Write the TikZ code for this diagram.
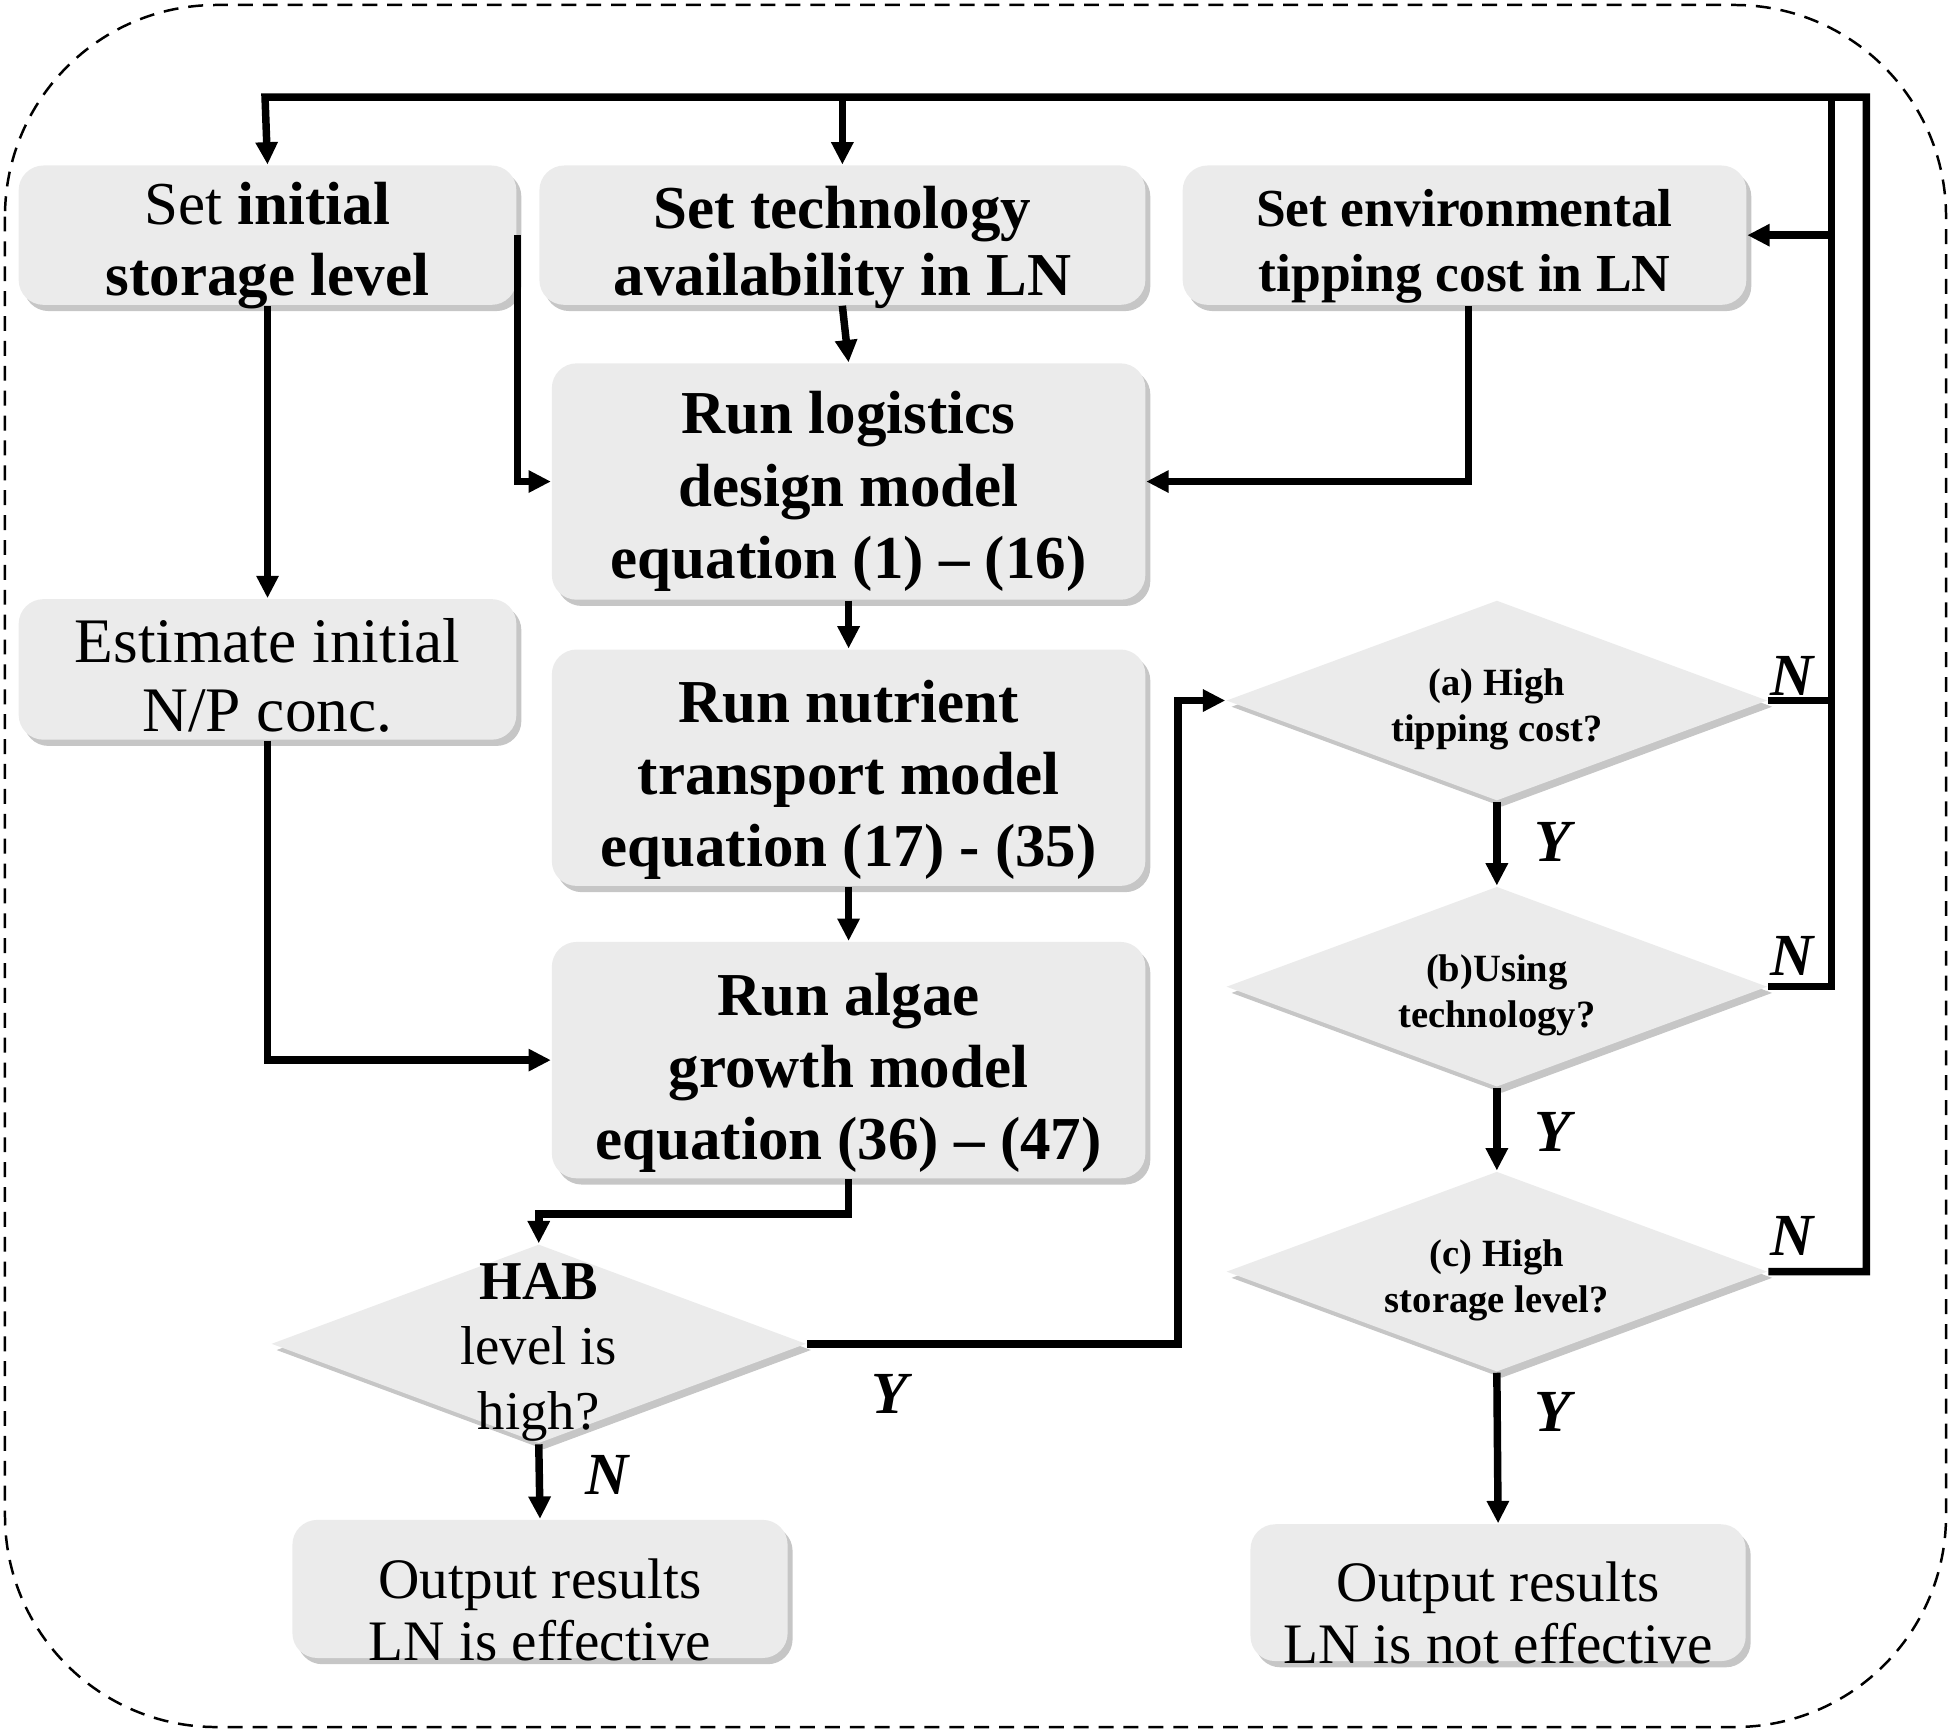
\documentclass[tikz,border=0pt]{standalone}
\usepackage{fontspec}
\setmainfont{Liberation Serif}
\usetikzlibrary{arrows.meta,shapes.geometric,shadows}

\definecolor{boxgray}{RGB}{235,235,235}
\tikzset{every picture/.style={line width=0.75pt}}
\tikzset{
	procbox/.style={rectangle, rounded corners=10pt, fill=boxgray, inner sep=0pt,
		drop shadow={shadow xshift=2pt, shadow yshift=-2.5pt, opacity=0.45}},
	decision/.style={diamond, fill=boxgray, inner sep=0pt,
		minimum width=217.5pt, minimum height=80.5pt,
		drop shadow={shadow xshift=2pt, shadow yshift=-2.5pt, opacity=0.45}},
	boxtext/.style={align=center, inner sep=0pt},
	asktext/.style={align=center, inner sep=0pt, yshift=-3.5pt, font=\fontsize{15.5}{18.5}\selectfont\bfseries},
	flow/.style={line width=3pt, -{Triangle[length=9pt,width=8.5pt]}},
	link/.style={line width=3pt},
	yn/.style={font=\fontsize{24}{24}\selectfont\bfseries\itshape},
}

\begin{document}
\begin{tikzpicture}[x=0.5pt,y=0.5pt,yscale=-1,xscale=1]
	\useasboundingbox (0,0) rectangle (1568,1392);

	%Shape: dashed frame
	\draw [line width=1pt, dash pattern=on 6pt off 4pt, rounded corners=85pt] (4,4) rectangle (1564,1388);

	% Process boxes
	\node [procbox, minimum width=200pt, minimum height=56pt,
		label={[boxtext, yshift=-4pt, font=\fontsize{24.5}{28.5}\selectfont]center:Set \textbf{initial}\\\textbf{storage level}}] (setstor) at (215,189) {};
	\node [procbox, minimum width=243.5pt, minimum height=56pt,
		label={[boxtext, yshift=-5pt, font=\fontsize{24.5}{27}\selectfont\bfseries]center:Set technology\\availability in LN}] (settech) at (677,189) {};
	\node [procbox, minimum width=226.5pt, minimum height=56pt,
		label={[boxtext, yshift=-4.5pt, font=\fontsize{21.5}{26}\selectfont\bfseries]center:Set environmental\\tipping cost in LN}] (settip) at (1177,189) {};
	\node [procbox, minimum width=238.5pt, minimum height=95pt,
		label={[boxtext, yshift=-4pt, font=\fontsize{24.5}{29}\selectfont\bfseries]center:Run logistics\\design model\\equation (1) – (16)}] (logi) at (682,387) {};
	\node [procbox, minimum width=200pt, minimum height=56.5pt,
		label={[boxtext, yshift=-2.5pt, font=\fontsize{25.5}{27.5}\selectfont]center:Estimate initial\\N/P conc.}] (estnp) at (215,538) {};
	\node [procbox, minimum width=238.5pt, minimum height=95pt,
		label={[boxtext, yshift=-5pt, font=\fontsize{24.5}{29}\selectfont\bfseries]center:Run nutrient\\transport model\\equation (17) - (35)}] (nutr) at (682,617) {};
	\node [procbox, minimum width=238.5pt, minimum height=95pt,
		label={[boxtext, yshift=-5pt, font=\fontsize{24.5}{29}\selectfont\bfseries]center:Run algae\\growth model\\equation (36) – (47)}] (algae) at (682,852) {};
	\node [procbox, minimum width=199pt, minimum height=55.5pt,
		label={[boxtext, yshift=-8.5pt, font=\fontsize{23}{25}\selectfont]center:Output results\\LN is effective}] (outeff) at (434,1277) {};
	\node [procbox, minimum width=199pt, minimum height=55pt,
		label={[boxtext, yshift=-8pt, font=\fontsize{23}{25}\selectfont]center:Output results\\LN is not effective}] (outnot) at (1204,1280) {};

	% Decisions
	\node [decision, minimum width=215pt, minimum height=80pt,
		label={[boxtext, yshift=-3.5pt, font=\fontsize{22}{26}\selectfont]center:\textbf{HAB}\\level is\\high?}] (hab) at (433,1080) {};
	\node [decision, label={[asktext]center:(a) High\\tipping cost?}] (dtip) at (1203,563) {};
	\node [decision, label={[asktext]center:(b)Using\\technology?}] (dtech) at (1203,793) {};
	\node [decision, label={[asktext]center:(c) High\\storage level?}] (dstor) at (1203,1022) {};

	% Feedback corners
	\coordinate (topl) at (213,78);
	\coordinate (topr) at (1500,78);
	\coordinate (innr) at (1472,78);

	%Straight Lines
	\draw [flow] (dstor.east) -| (topr) -- (topl) -- (setstor.north);
	\draw [flow] (settech.north |- topl) -- (settech.north);
	\draw [link] (dtech.east) -| (innr);
	\draw [link] (dtip.east) -- (dtip.east -| innr);
	\draw [flow] (settip.east -| innr) -- (settip.east);
	\draw [flow] (setstor.east) |- (logi.west);
	\draw [flow] (setstor.south) -- (estnp.north);
	\draw [flow] (settech.south) -- (logi.north);
	\draw [flow] ([xshift=1.5pt]settip.south) |- (logi.east);
	\draw [flow] (logi.south) -- (nutr.north);
	\draw [flow] (nutr.south) -- (algae.north);
	\draw [flow] (estnp.south) |- (algae.west);
	\draw [flow] (algae.south) -- ++(0,28) -| (hab.north);
	\draw [flow] (hab.east) -- ++(298,0) |- (dtip.west);
	\draw [flow] (hab.south) -- (outeff.north);
	\draw [flow] (dtip.south) -- (dtech.north);
	\draw [flow] (dtech.south) -- (dstor.north);
	\draw [flow] (dstor.south) -- (outnot.north);

	% Text Node
	\node [yn] (yhab) at (715,1120) {Y};
	% Text Node
	\node [yn] (nhab) at (488,1185) {N};
	% Text Node
	\node [yn] (ytip) at (1248,677) {Y};
	% Text Node
	\node [yn] (ytech) at (1248,910) {Y};
	% Text Node
	\node [yn] (ystor) at (1248,1135) {Y};
	% Text Node
	\node [yn] (ntip) at (1440,543) {N};
	% Text Node
	\node [yn] (ntech) at (1440,768) {N};
	% Text Node
	\node [yn] (nstor) at (1440,993) {N};

\end{tikzpicture}
\end{document}
